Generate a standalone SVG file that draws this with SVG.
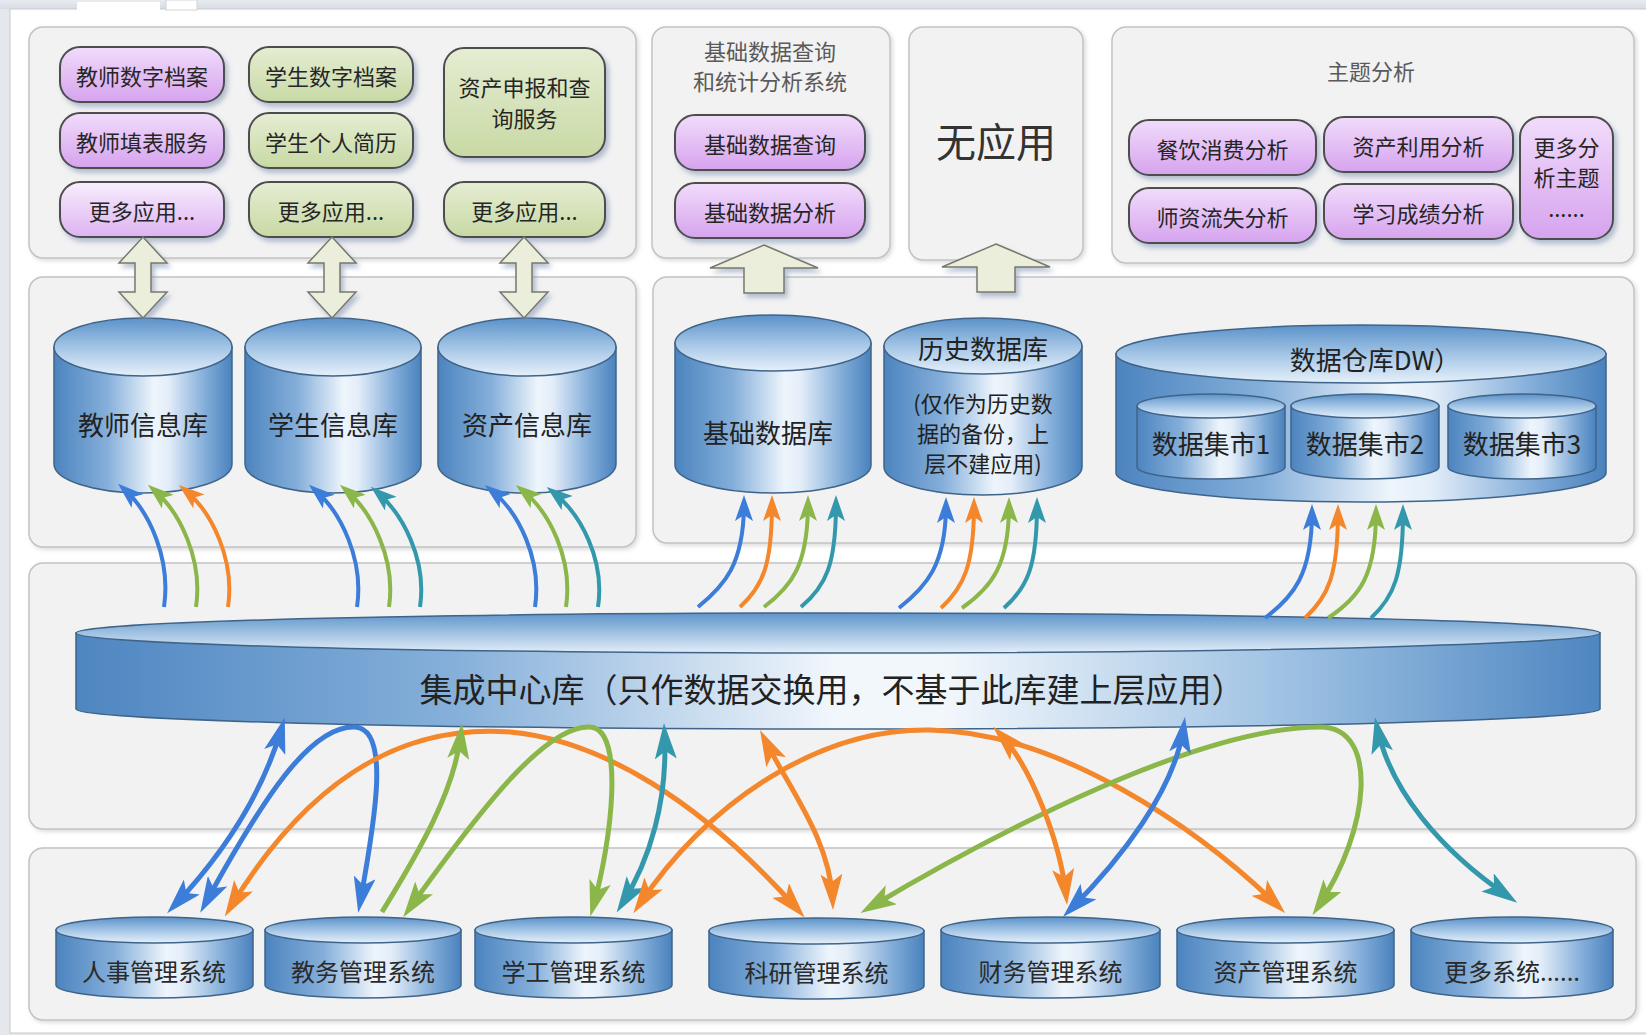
<svg xmlns="http://www.w3.org/2000/svg" width="1646" height="1035" viewBox="0 0 1646 1035">
<style>
text{font-family:"Noto Sans CJK SC","Noto Sans",sans-serif;text-anchor:middle;dominant-baseline:central}
.panel{fill:#f2f2f2;stroke:#c3c3c3;stroke-width:1.5}
.pur{fill:url(#gPur);stroke:#4d4d4d;stroke-width:2}
.purL{fill:url(#gPurL);stroke:#4d4d4d;stroke-width:2}
.grn{fill:url(#gGrn);stroke:#4d4d4d;stroke-width:2}
.bt{font-size:22px;fill:#262626}
.ttl{font-size:22px;fill:#5a5a5a}
.body{fill:url(#gBody);stroke:#3f6489;stroke-width:1.5}
.top{fill:url(#gTop);stroke:#3f6489;stroke-width:1.5}
.ct{font-size:26px;fill:#222}
.ct2{font-size:22px;fill:#222}
.st{font-size:24px;fill:#2a2a2a}
.blk{fill:#ebeedb;stroke:#77796c;stroke-width:1.5}
.c{fill:none;stroke-linecap:butt}
.w4{stroke-width:4}
.w5{stroke-width:5}
.bl{stroke:#3b7dd8}
.or{stroke:#f4872b}
.gr{stroke:#8bb64a}
.te{stroke:#3498ad}
</style>
<defs>
<linearGradient id="gPur" x1="0" y1="0" x2="0" y2="1"><stop offset="0" stop-color="#f1dcfb"/><stop offset="1" stop-color="#d6a3ee"/></linearGradient>
<linearGradient id="gPurL" x1="0" y1="0" x2="0" y2="1"><stop offset="0" stop-color="#f8eefd"/><stop offset="1" stop-color="#ddb3f2"/></linearGradient>
<linearGradient id="gGrn" x1="0" y1="0" x2="0" y2="1"><stop offset="0" stop-color="#e5edd3"/><stop offset="1" stop-color="#c8d9a4"/></linearGradient>
<linearGradient id="gBody" x1="0" y1="0" x2="1" y2="0"><stop offset="0" stop-color="#4c84bf"/><stop offset="0.3" stop-color="#85afda"/><stop offset="0.56" stop-color="#eef5fc"/><stop offset="0.64" stop-color="#e4eef9"/><stop offset="0.86" stop-color="#7eaad7"/><stop offset="1" stop-color="#4a82bd"/></linearGradient>
<linearGradient id="gTop" x1="0" y1="0" x2="0" y2="1"><stop offset="0" stop-color="#5b92c9"/><stop offset="0.55" stop-color="#a9c9e8"/><stop offset="1" stop-color="#e6f0fa"/></linearGradient>
<linearGradient id="gBus" x1="0" y1="0" x2="1" y2="0"><stop offset="0" stop-color="#4e86c1"/><stop offset="0.25" stop-color="#86b0da"/><stop offset="0.5" stop-color="#f2f7fc"/><stop offset="0.57" stop-color="#f2f7fc"/><stop offset="0.8" stop-color="#9cc0e2"/><stop offset="1" stop-color="#4e86c1"/></linearGradient>
<linearGradient id="gBusTop" x1="0" y1="0" x2="0" y2="1"><stop offset="0" stop-color="#5f95cb"/><stop offset="1" stop-color="#e3eef9"/></linearGradient>
<linearGradient id="gStrip" x1="0" y1="0" x2="0" y2="1"><stop offset="0" stop-color="#e8ebf0"/><stop offset="1" stop-color="#d6dce5"/></linearGradient>
<filter id="sh" x="-10%" y="-15%" width="130%" height="150%"><feDropShadow dx="3" dy="4" stdDeviation="2.5" flood-color="#7d91b2" flood-opacity="0.55"/></filter>
<filter id="psh" x="-5%" y="-5%" width="110%" height="115%"><feDropShadow dx="2" dy="2" stdDeviation="2" flood-color="#999" flood-opacity="0.35"/></filter>
<marker id="Bbl" viewBox="0 0 36 22" refX="26" refY="11" markerWidth="36" markerHeight="22" markerUnits="userSpaceOnUse" orient="auto-start-reverse"><path d="M0,0 L36,11 L0,22 L8,11 Z" fill="#3b7dd8"/></marker>
<marker id="Bor" viewBox="0 0 36 22" refX="26" refY="11" markerWidth="36" markerHeight="22" markerUnits="userSpaceOnUse" orient="auto-start-reverse"><path d="M0,0 L36,11 L0,22 L8,11 Z" fill="#f4872b"/></marker>
<marker id="Bgr" viewBox="0 0 36 22" refX="26" refY="11" markerWidth="36" markerHeight="22" markerUnits="userSpaceOnUse" orient="auto-start-reverse"><path d="M0,0 L36,11 L0,22 L8,11 Z" fill="#8bb64a"/></marker>
<marker id="Bte" viewBox="0 0 36 22" refX="26" refY="11" markerWidth="36" markerHeight="22" markerUnits="userSpaceOnUse" orient="auto-start-reverse"><path d="M0,0 L36,11 L0,22 L8,11 Z" fill="#3498ad"/></marker>
<marker id="Sbl" viewBox="0 0 26 18" refX="18" refY="9" markerWidth="26" markerHeight="18" markerUnits="userSpaceOnUse" orient="auto"><path d="M0,0 L26,9 L0,18 L6,9 Z" fill="#3b7dd8"/></marker>
<marker id="Sor" viewBox="0 0 26 18" refX="18" refY="9" markerWidth="26" markerHeight="18" markerUnits="userSpaceOnUse" orient="auto"><path d="M0,0 L26,9 L0,18 L6,9 Z" fill="#f4872b"/></marker>
<marker id="Sgr" viewBox="0 0 26 18" refX="18" refY="9" markerWidth="26" markerHeight="18" markerUnits="userSpaceOnUse" orient="auto"><path d="M0,0 L26,9 L0,18 L6,9 Z" fill="#8bb64a"/></marker>
<marker id="Ste" viewBox="0 0 26 18" refX="18" refY="9" markerWidth="26" markerHeight="18" markerUnits="userSpaceOnUse" orient="auto"><path d="M0,0 L26,9 L0,18 L6,9 Z" fill="#3498ad"/></marker>
</defs>

<g id="background">
<rect width="1646" height="1035" fill="#e4e7ec"/>
<rect x="0" y="0" width="1646" height="9" fill="url(#gStrip)"/>
<rect x="10" y="9" width="1640" height="1024" fill="#ffffff" stroke="#c9c9c9"/>
<rect x="77" y="2" width="83" height="8" fill="#ffffff"/>
<rect x="166" y="0" width="31" height="10" fill="#ffffff" stroke="#d3d3d3"/>
</g>

<g id="panels" filter="url(#psh)">
<rect id="panel-apps" class="panel" x="29" y="27" width="607" height="231" rx="14"/>
<rect id="panel-query" class="panel" x="652" y="27" width="238" height="231" rx="14"/>
<rect id="panel-none" class="panel" x="909" y="27" width="174" height="233" rx="14"/>
<rect id="panel-topic" class="panel" x="1112" y="27" width="522" height="236" rx="14"/>
<rect id="panel-infodb" class="panel" x="29" y="277" width="607" height="270" rx="14"/>
<rect id="panel-dw" class="panel" x="653" y="277" width="981" height="266" rx="14"/>
<rect id="panel-bus" class="panel" x="29" y="563" width="1607" height="266" rx="14"/>
<rect id="panel-sys" class="panel" x="29" y="848" width="1607" height="172" rx="14"/>
</g>

<g id="app-teacher-archive"><rect class="pur" x="60" y="47" width="164" height="55" rx="20" filter="url(#sh)"/><text class="bt" x="142" y="74.5">教师数字档案</text></g>
<g id="app-teacher-form"><rect class="pur" x="60" y="113" width="164" height="55" rx="20" filter="url(#sh)"/><text class="bt" x="142" y="140.5">教师填表服务</text></g>
<g id="app-teacher-more"><rect class="purL" x="60" y="182" width="164" height="55" rx="20" filter="url(#sh)"/><text class="bt" x="142" y="209.5">更多应用...</text></g>
<g id="app-student-archive"><rect class="grn" x="249" y="47" width="164" height="55" rx="20" filter="url(#sh)"/><text class="bt" x="331" y="74.5">学生数字档案</text></g>
<g id="app-student-resume"><rect class="grn" x="249" y="113" width="164" height="55" rx="20" filter="url(#sh)"/><text class="bt" x="331" y="140.5">学生个人简历</text></g>
<g id="app-student-more"><rect class="grn" x="249" y="182" width="164" height="55" rx="20" filter="url(#sh)"/><text class="bt" x="331" y="209.5">更多应用...</text></g>
<g id="app-asset-report"><rect class="grn" x="444" y="48" width="161" height="109" rx="20" filter="url(#sh)"/><text class="bt" x="524.5" y="86">资产申报和查</text><text class="bt" x="524.5" y="117">询服务</text></g>
<g id="app-asset-more"><rect class="grn" x="444" y="182" width="161" height="55" rx="20" filter="url(#sh)"/><text class="bt" x="524.5" y="209.5">更多应用...</text></g>

<g id="query-system">
<text class="ttl" x="770" y="50">基础数据查询</text><text class="ttl" x="770" y="80">和统计分析系统</text>
</g>
<g id="app-basic-query"><rect class="pur" x="675" y="115" width="190" height="55" rx="20" filter="url(#sh)"/><text class="bt" x="770" y="142.5">基础数据查询</text></g>
<g id="app-basic-analysis"><rect class="pur" x="675" y="183" width="190" height="55" rx="20" filter="url(#sh)"/><text class="bt" x="770" y="210.5">基础数据分析</text></g>

<g id="no-app"><text x="996" y="140" style="font-size:40px;fill:#333">无应用</text></g>

<g id="topic-analysis"><text class="ttl" x="1371" y="70">主题分析</text></g>
<g id="topic-dining"><rect class="pur" x="1129" y="120" width="187" height="55" rx="20" filter="url(#sh)"/><text class="bt" x="1222.5" y="147.5">餐饮消费分析</text></g>
<g id="topic-asset"><rect class="pur" x="1324" y="117" width="189" height="55" rx="20" filter="url(#sh)"/><text class="bt" x="1418.5" y="144.5">资产利用分析</text></g>
<g id="topic-staff"><rect class="pur" x="1129" y="188" width="187" height="55" rx="20" filter="url(#sh)"/><text class="bt" x="1222.5" y="215.5">师资流失分析</text></g>
<g id="topic-study"><rect class="pur" x="1324" y="184" width="189" height="55" rx="20" filter="url(#sh)"/><text class="bt" x="1418.5" y="211.5">学习成绩分析</text></g>
<g id="topic-more"><rect class="pur" x="1520" y="117" width="93" height="122" rx="20" filter="url(#sh)"/><text class="bt" x="1566.5" y="146">更多分</text><text class="bt" x="1566.5" y="176">析主题</text><text class="bt" x="1566.5" y="207">......</text></g>

<g id="db-teacher"><path class="body" d="M54,347 V464 A89,29 0 0 0 232,464 V347 Z"/><ellipse class="top" cx="143" cy="347" rx="89" ry="29"/><text class="ct" x="143" y="423">教师信息库</text></g>
<g id="db-student"><path class="body" d="M245,347 V464 A88,29 0 0 0 421,464 V347 Z"/><ellipse class="top" cx="333" cy="347" rx="88" ry="29"/><text class="ct" x="333" y="423">学生信息库</text></g>
<g id="db-asset"><path class="body" d="M438,347 V464 A89,29 0 0 0 616,464 V347 Z"/><ellipse class="top" cx="527" cy="347" rx="89" ry="29"/><text class="ct" x="527" y="423">资产信息库</text></g>

<g id="db-basic"><path class="body" d="M675,343 V465 A98,28 0 0 0 871,465 V343 Z"/><ellipse class="top" cx="773" cy="343" rx="98" ry="28"/><text class="ct" x="768" y="431">基础数据库</text></g>
<g id="db-history"><path class="body" d="M884,346 V467 A99,28 0 0 0 1082,467 V346 Z"/><ellipse class="top" cx="983" cy="346" rx="99" ry="28"/><text class="ct" x="983" y="347">历史数据库</text><text class="ct2" x="983" y="402">(仅作为历史数</text><text class="ct2" x="983" y="432">据的备份，上</text><text class="ct2" x="983" y="462">层不建应用)</text></g>
<g id="dw"><path class="body" d="M1116,354 V473 A245,29 0 0 0 1606,473 V354 Z"/><ellipse class="top" cx="1361" cy="354" rx="245" ry="29"/><text class="ct" x="1375" y="358">数据仓库DW）</text></g>
<g id="mart-1"><path class="body" d="M1137,406 V467 A74,12 0 0 0 1285,467 V406 Z"/><ellipse class="top" cx="1211" cy="406" rx="74" ry="12"/><text class="ct" x="1211" y="442">数据集市1</text></g>
<g id="mart-2"><path class="body" d="M1291,406 V467 A74,12 0 0 0 1439,467 V406 Z"/><ellipse class="top" cx="1365" cy="406" rx="74" ry="12"/><text class="ct" x="1365" y="442">数据集市2</text></g>
<g id="mart-3"><path class="body" d="M1448,406 V467 A74,12 0 0 0 1596,467 V406 Z"/><ellipse class="top" cx="1522" cy="406" rx="74" ry="12"/><text class="ct" x="1522" y="442">数据集市3</text></g>

<g id="bus"><path d="M76,633 V709 A762,20 0 0 0 1600,709 V633 Z" fill="url(#gBus)" stroke="#3f6489" stroke-width="1.5"/><ellipse cx="838" cy="633" rx="762" ry="20" fill="url(#gBusTop)" stroke="#3f6489" stroke-width="1.5"/><text x="832" y="688" style="font-size:33px;fill:#222">集成中心库（只作数据交换用，不基于此库建上层应用）</text></g>

<g id="sys-hr"><path class="body" d="M56,930 V985 A98.5,13 0 0 0 253,985 V930 Z"/><ellipse class="top" cx="154.5" cy="930" rx="98.5" ry="13"/><text class="st" x="154" y="970">人事管理系统</text></g>
<g id="sys-edu"><path class="body" d="M265,930 V985 A98,13 0 0 0 461,985 V930 Z"/><ellipse class="top" cx="363" cy="930" rx="98" ry="13"/><text class="st" x="363" y="970">教务管理系统</text></g>
<g id="sys-stu"><path class="body" d="M475,930 V985 A98.5,13 0 0 0 672,985 V930 Z"/><ellipse class="top" cx="573.5" cy="930" rx="98.5" ry="13"/><text class="st" x="573.5" y="970">学工管理系统</text></g>
<g id="sys-res"><path class="body" d="M709,931 V986 A107.5,13 0 0 0 924,986 V931 Z"/><ellipse class="top" cx="816.5" cy="931" rx="107.5" ry="13"/><text class="st" x="816.5" y="971">科研管理系统</text></g>
<g id="sys-fin"><path class="body" d="M941,930 V985 A109.5,13 0 0 0 1160,985 V930 Z"/><ellipse class="top" cx="1050.5" cy="930" rx="109.5" ry="13"/><text class="st" x="1050.5" y="970">财务管理系统</text></g>
<g id="sys-asset"><path class="body" d="M1177,930 V985 A108.5,13 0 0 0 1394,985 V930 Z"/><ellipse class="top" cx="1285.5" cy="930" rx="108.5" ry="13"/><text class="st" x="1285.5" y="970">资产管理系统</text></g>
<g id="sys-more"><path class="body" d="M1411,930 V985 A101,13 0 0 0 1613,985 V930 Z"/><ellipse class="top" cx="1512" cy="930" rx="101" ry="13"/><text class="st" x="1512" y="970">更多系统......</text></g>

<g id="connectors">
<g filter="url(#sh)">
<path class="blk" d="M143,237 L167,263 L151,263 L151,292 L167,292 L143,318 L119,292 L135,292 L135,263 L119,263 Z"/>
<path class="blk" d="M332,237 L356,263 L340,263 L340,292 L356,292 L332,318 L308,292 L324,292 L324,263 L308,263 Z"/>
<path class="blk" d="M524,237 L548,263 L532,263 L532,292 L548,292 L524,318 L500,292 L516,292 L516,263 L500,263 Z"/>
<path class="blk" d="M764,245 L818,268 L784,268 L784,293 L744,293 L744,268 L710,268 Z"/>
<path class="blk" d="M996,244 L1050,267 L1015,267 L1015,292 L977,292 L977,267 L942,267 Z"/>
</g>
<g id="up-arrows">
<path class="c w4 bl" d="M164,607 C171,560 150,512 124,489" marker-end="url(#Sbl)"/>
<path class="c w4 gr" d="M196,607 C203,560 180,512 154,490" marker-end="url(#Sgr)"/>
<path class="c w4 or" d="M228,607 C235,560 212,512 185,490" marker-end="url(#Sor)"/>
<path class="c w4 bl" d="M357,607 C364,560 341,512 315,490" marker-end="url(#Sbl)"/>
<path class="c w4 gr" d="M389,607 C396,560 372,512 346,490" marker-end="url(#Sgr)"/>
<path class="c w4 te" d="M420,607 C427,560 403,514 377,492" marker-end="url(#Ste)"/>
<path class="c w4 bl" d="M535,607 C542,560 519,512 491,490" marker-end="url(#Sbl)"/>
<path class="c w4 gr" d="M566,607 C573,560 550,512 522,490" marker-end="url(#Sgr)"/>
<path class="c w4 te" d="M598,607 C605,560 581,514 553,492" marker-end="url(#Ste)"/>
<path class="c w4 bl" d="M698,607 C724,586 744,565 744,503" marker-end="url(#Sbl)"/>
<path class="c w4 or" d="M740,607 C763,586 772,565 772,503" marker-end="url(#Sor)"/>
<path class="c w4 gr" d="M764,607 C792,586 808,565 808,503" marker-end="url(#Sgr)"/>
<path class="c w4 te" d="M801,607 C826,586 836,565 836,503" marker-end="url(#Ste)"/>
<path class="c w4 bl" d="M899,608 C926,587 946,565 946,505" marker-end="url(#Sbl)"/>
<path class="c w4 or" d="M941,608 C964,587 974,565 974,505" marker-end="url(#Sor)"/>
<path class="c w4 gr" d="M962,608 C992,587 1009,565 1009,505" marker-end="url(#Sgr)"/>
<path class="c w4 te" d="M1004,608 C1028,587 1037,565 1037,505" marker-end="url(#Ste)"/>
<path class="c w4 bl" d="M1265,618 C1293,597 1312,575 1312,512" marker-end="url(#Sbl)"/>
<path class="c w4 or" d="M1305,618 C1328,597 1338,575 1338,512" marker-end="url(#Sor)"/>
<path class="c w4 gr" d="M1328,618 C1360,597 1376,575 1376,512" marker-end="url(#Sgr)"/>
<path class="c w4 te" d="M1371,618 C1394,597 1403,575 1403,512" marker-end="url(#Ste)"/>
</g>
<g id="exchange-arrows">
<path class="c w5 bl" d="M174,906 Q255,820 282,727" marker-start="url(#Bbl)" marker-end="url(#Bbl)"/>
<path class="c w5 bl" d="M205,904 C262,800 310,725 355,727 C390,729 376,815 360,903" marker-start="url(#Bbl)" marker-end="url(#Bbl)"/>
<path class="c w5 or" d="M230,908 C320,760 420,725 510,732 C600,740 700,800 798,910" marker-start="url(#Bor)" marker-end="url(#Bor)"/>
<path class="c w5 gr" d="M382,912 C420,850 455,790 461,733" marker-end="url(#Bgr)"/>
<path class="c w5 gr" d="M409,909 C480,810 545,725 590,727 C625,729 612,840 593,907" marker-start="url(#Bgr)" marker-end="url(#Bgr)"/>
<path class="c w5 te" d="M622,904 C650,860 668,800 664.5,733" marker-start="url(#Bte)" marker-end="url(#Bte)"/>
<path class="c w5 or" d="M639,905 C710,800 820,728 930,730 C1060,732 1200,830 1278,906" marker-start="url(#Bor)" marker-end="url(#Bor)"/>
<path class="c w5 or" d="M764.5,739 C790,790 830,840 832.6,900" marker-start="url(#Bor)" marker-end="url(#Bor)"/>
<path class="c w5 gr" d="M869,908 C1000,830 1200,727 1320,727 C1380,727 1370,830 1318,907" marker-start="url(#Bgr)" marker-end="url(#Bgr)"/>
<path class="c w5 or" d="M1000,734 C1030,765 1060,840 1066,895" marker-start="url(#Bor)" marker-end="url(#Bor)"/>
<path class="c w5 bl" d="M1070,910 C1120,860 1175,790 1183.6,727" marker-start="url(#Bbl)" marker-end="url(#Bbl)"/>
<path class="c w5 te" d="M1377,727 C1390,790 1440,850 1509,897" marker-start="url(#Bte)" marker-end="url(#Bte)"/>
</g>
</g>
</svg>
